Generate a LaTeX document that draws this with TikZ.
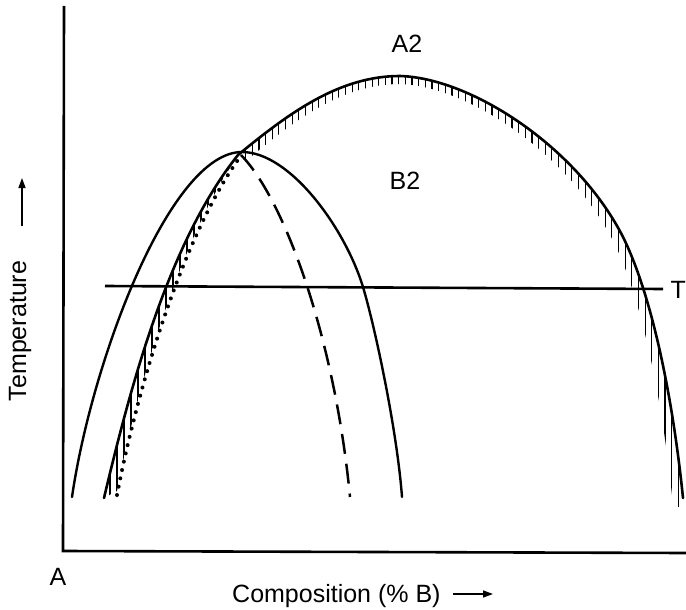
\documentclass[tikz,border=0pt]{standalone}
\usepackage{fontspec}
\setmainfont{Liberation Sans}
\usetikzlibrary{arrows.meta}
\begin{document}
\begin{tikzpicture}[x=1pt,y=-1pt,
  curve/.style={line width=2.6pt, line cap=round, line join=round},
  hatch/.style={line width=1.2pt},
  lbl/.style={font=\fontsize{25}{30}\selectfont, inner sep=0pt},
  axarrow/.style={line width=1.4pt, -{Triangle[length=10pt,width=7pt]}}]
\useasboundingbox (0,0) rectangle (686,610);

\def\CL{(104,498) .. controls (132,380) and (170,240) .. (238,155)}
\def\CR{(238,155) .. controls (290,112) and (340,76) .. (400,76) .. controls (470,78) and (575,145) .. (622,235) .. controls (650,290) and (672,390) .. (683,498)}

% axes
\coordinate (ytop) at (64,6);
\coordinate (origin) at (63,551);
\coordinate (xend) at (686,553);
\draw[line width=2.6pt] (ytop) -- (origin) -- (xend);

% hatching below right part of big curve
\begin{scope}
  \clip (238,0) rectangle (690,506);
  \clip \CR -- (683,600) -- (238,600) -- cycle;
  \begin{scope}[shift={(400,8)}, xscale=0.965, shift={(-400,0)}, even odd rule]
    \clip (-100,-100) rectangle (800,800) (150,155) -- \CR -- (683,600) -- (150,600) -- cycle;
    \foreach \x in {240,246.9,...,720} \draw[hatch] (\x,0) -- (\x,610);
  \end{scope}
\end{scope}

% hatching between left part and dotted curve
\begin{scope}
  \clip \CL -- (240,153) .. controls (180,236) and (135,396) .. (117,491) -- cycle;
  \foreach \x in {110,117,...,238} \draw[hatch] (\x,100) -- (\x,510);
\end{scope}

% big curve
\draw[curve] \CL;
\draw[curve] \CR;

% B2 curve
\draw[curve, line width=2.4pt] (72,497) .. controls (92,360) and (170,152) .. (242,152)
  .. controls (290,152) and (345,228) .. (363,287)
  .. controls (375,327) and (397,430) .. (402,497);

% dashed curve
\draw[line width=2.5pt, dash pattern=on 20pt off 10pt] (241,155) .. controls (285,200) and (335,340) .. (350,497);

% dotted curve
\draw[line width=4pt, line cap=round, dash pattern=on 0pt off 8.5pt] (117,495) .. controls (135,400) and (180,240) .. (240,157);

% T line
\coordinate (tl) at (105,286);
\coordinate (tr) at (663,289);
\draw[line width=2.6pt] (tl) -- (tr);
\node[lbl, anchor=east] (T) at (686,290) {T};

% labels
\node[lbl] (A2) at (407,44) {A2};
\node[lbl] (B2) at (405,181) {B2};
\node[lbl] (A) at (58,577) {A};
\node[lbl, anchor=base west] (comp) at (232,602) {Composition (\% B)};
\coordinate (ca) at (453,594);
\coordinate (cb) at (493,594);
\draw[axarrow] (ca) -- (cb);
\node[lbl, rotate=90] (temp) at (20,331) {Temperature};
\coordinate (ta) at (22,226);
\coordinate (tb) at (22,178);
\draw[axarrow] (ta) -- (tb);
\end{tikzpicture}
\end{document}
